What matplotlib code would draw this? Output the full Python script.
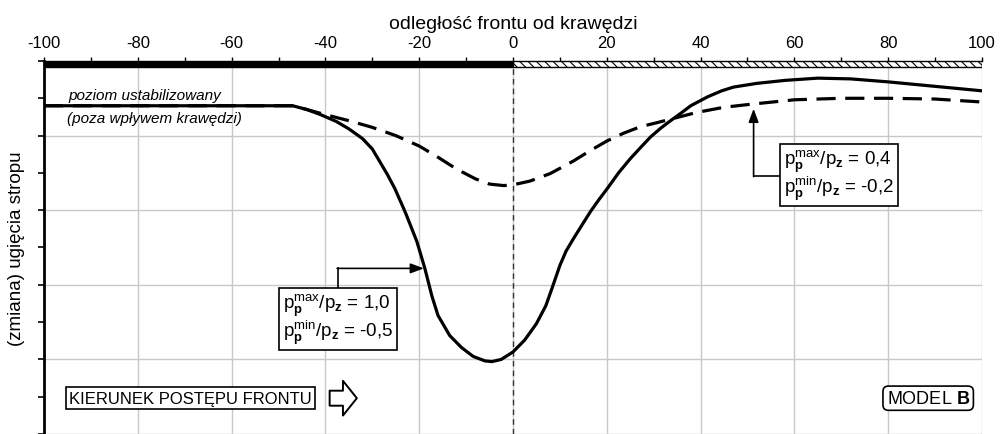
import numpy as np
import matplotlib
matplotlib.use('Agg')
import matplotlib.pyplot as plt
from matplotlib.patches import Rectangle
import matplotlib.transforms as mtransforms

plt.rcParams['font.family'] = ['Liberation Sans', 'DejaVu Sans']
plt.rcParams['mathtext.fontset'] = 'custom'
plt.rcParams['mathtext.rm'] = 'Liberation Sans'
plt.rcParams['mathtext.it'] = 'Liberation Sans:italic'
plt.rcParams['mathtext.bf'] = 'Liberation Sans:bold'
plt.rcParams['axes.unicode_minus'] = False

# curve data
x_solid = [-100, -47, -44, -41, -37.7, -35, -32.1, -30, -28.4, -26.8, -25.2,
           -23.3, -22.7, -20.5, -18.8, -17.3, -16.0, -13.5, -11, -8.5, -6,
           -4.5, -2.5, 0, 2.5, 5, 7, 8.3, 10, 11.3, 12.9, 14.7, 16.5, 18.3,
           20.1, 22.5, 25, 27.2, 29.3, 31.5, 33.6, 35.8, 37.9, 41.5, 44.5, 47,
           52, 58, 65, 72, 80, 90, 100]
y_solid = [-0.60, -0.60, -0.65, -0.72, -0.81, -0.91, -1.04, -1.18, -1.35, -1.52,
           -1.71, -1.98, -2.07, -2.42, -2.78, -3.15, -3.41, -3.68, -3.84, -3.96,
           -4.02, -4.03, -4.00, -3.90, -3.74, -3.52, -3.28, -3.05, -2.74, -2.55,
           -2.38, -2.20, -2.02, -1.86, -1.71, -1.50, -1.31, -1.16, -1.02, -0.90,
           -0.80, -0.70, -0.60, -0.48, -0.40, -0.35, -0.30, -0.26, -0.23, -0.24,
           -0.28, -0.34, -0.40]

x_dash = [-100, -47, -44, -40, -35, -30, -25, -20, -16, -12, -8, -5, -2, 0, 3.6,
          7.9, 12.9, 16.5, 20.1, 23.5, 27.2, 30.5, 33.6, 37.9, 40, 45, 50.7, 60,
          70, 80, 90, 100]
y_dash = [-0.60, -0.60, -0.65, -0.72, -0.80, -0.89, -1.00, -1.14, -1.29, -1.45,
          -1.58, -1.65, -1.67, -1.66, -1.61, -1.51, -1.34, -1.20, -1.07, -0.97,
          -0.88, -0.83, -0.78, -0.71, -0.68, -0.62, -0.58, -0.52, -0.50, -0.50,
          -0.51, -0.55]

x_ticks = [-100, -80, -60, -40, -20, 0, 20, 40, 60, 80, 100]
label_solid = r'$\mathrm{p_{\mathbf{p}}^{max}/p_{\mathbf{z}}}$ = 1,0' + '\n' + \
              r'$\mathrm{p_{\mathbf{p}}^{min}/p_{\mathbf{z}}}$ = -0,5'
label_dash = r'$\mathrm{p_{\mathbf{p}}^{max}/p_{\mathbf{z}}}$ = 0,4' + '\n' + \
             r'$\mathrm{p_{\mathbf{p}}^{min}/p_{\mathbf{z}}}$ = -0,2'

fig = plt.figure(figsize=(10.01, 4.35), dpi=100)
ax = fig.add_axes([0.044, 0.0, 0.937, 0.8575])

ax.set_xlim(-100, 100)
ax.set_ylim(-5, 0)

# grid
ax.set_xticks(x_ticks)
ax.set_xticks(np.arange(-90, 100, 20), minor=True)
ax.set_yticks(np.arange(-5, 0.1, 1))
ax.set_yticks(np.arange(-4.5, 0, 1), minor=True)
ax.grid(True, which='major', color='#c8c8c8', lw=1.0)
ax.set_axisbelow(True)
ax.xaxis.tick_top()
ax.xaxis.set_label_position('top')
ax.tick_params(axis='x', which='both', direction='out', length=3, width=1,
               labelsize=12, pad=5)
ax.tick_params(axis='y', which='both', direction='out', length=4, width=1.2,
               labelleft=False)
for s in ['right', 'bottom']:
    ax.spines[s].set_visible(False)
ax.spines['top'].set_linewidth(1)
ax.spines['left'].set_linewidth(2)
ax.set_xlabel('odległość frontu od krawędzi', fontsize=14, labelpad=5)
ax.set_ylabel('(zmiana) ugięcia stropu', fontsize=13.5, labelpad=10)

# top band: solid part and hatched part
trans = mtransforms.blended_transform_factory(ax.transData, ax.transAxes)
ax.add_patch(Rectangle((-100, 0.984), 100, 0.016, transform=trans,
                       facecolor='black', edgecolor='black', lw=1, zorder=5))
plt.rcParams['hatch.linewidth'] = 0.8
ax.add_patch(Rectangle((0, 0.984), 100, 0.016, transform=trans,
                       facecolor='white', edgecolor='black', hatch='\\\\\\\\',
                       lw=1, zorder=5))

# vertical dashed at edge
ax.axvline(0, color='#333333', lw=1, ls=(0, (4, 3)), zorder=2)

# curves
ax.plot(x_solid, y_solid, color='black', lw=2.3, zorder=4,
        solid_joinstyle='round')
ax.plot(x_dash, y_dash, color='black', lw=2.3, ls=(0, (6, 3)), zorder=4)

# texts
ax.text(-94.8, -0.46, 'poziom ustabilizowany', style='italic', fontsize=11,
        va='center', ha='left')
ax.text(-95.2, -0.77, '(poza wpływem krawędzi)', style='italic', fontsize=11,
        va='center', ha='left')

# annotation for solid curve
ax.text(-49.0, -3.46, label_solid, fontsize=13.5, va='center', ha='left',
        linespacing=1.0, zorder=6,
        bbox=dict(boxstyle='square,pad=0.2', fc='white', ec='black', lw=1.2))
ax.plot([-37.4, -37.4], [-3.08, -2.78], color='black', lw=1.2, zorder=5)
ax.annotate('', xy=(-19.0, -2.78), xytext=(-37.5, -2.78),
            arrowprops=dict(arrowstyle='-|>,head_length=0.8,head_width=0.3',
                            color='black', lw=1.2, shrinkA=0, shrinkB=0),
            zorder=5)

# annotation for dashed curve
ax.text(57.8, -1.53, label_dash, fontsize=13.5, va='center', ha='left',
        linespacing=1.0, zorder=6,
        bbox=dict(boxstyle='square,pad=0.2', fc='white', ec='black', lw=1.2))
ax.plot([56.9, 51.3], [-1.54, -1.54], color='black', lw=1.2, zorder=5)
ax.annotate('', xy=(51.3, -0.64), xytext=(51.3, -1.55),
            arrowprops=dict(arrowstyle='-|>,head_length=0.8,head_width=0.3',
                            color='black', lw=1.2, shrinkA=0, shrinkB=0),
            zorder=5)

# direction box and hollow arrow
ax.text(-94.6, -4.52, 'KIERUNEK POSTĘPU FRONTU', fontsize=12, va='center',
        ha='left', zorder=6,
        bbox=dict(boxstyle='square,pad=0.2', fc='white', ec='black', lw=1.2))
ax.annotate('', xy=(-33.3, -4.52), xytext=(-39.1, -4.52),
            arrowprops=dict(arrowstyle='simple,head_length=0.5,head_width=1.25,tail_width=0.54',
                            mutation_scale=20, fc='white', ec='black', lw=1.4,
                            shrinkA=0, shrinkB=0),
            zorder=6)

# model label
ax.text(97.4, -4.52, r'MODEL $\mathbf{B}$', fontsize=13, va='center', ha='right',
        zorder=6,
        bbox=dict(boxstyle='round,pad=0.2,rounding_size=0.3', fc='white',
                  ec='black', lw=1.2))

fig.savefig('out.png', dpi=100)
